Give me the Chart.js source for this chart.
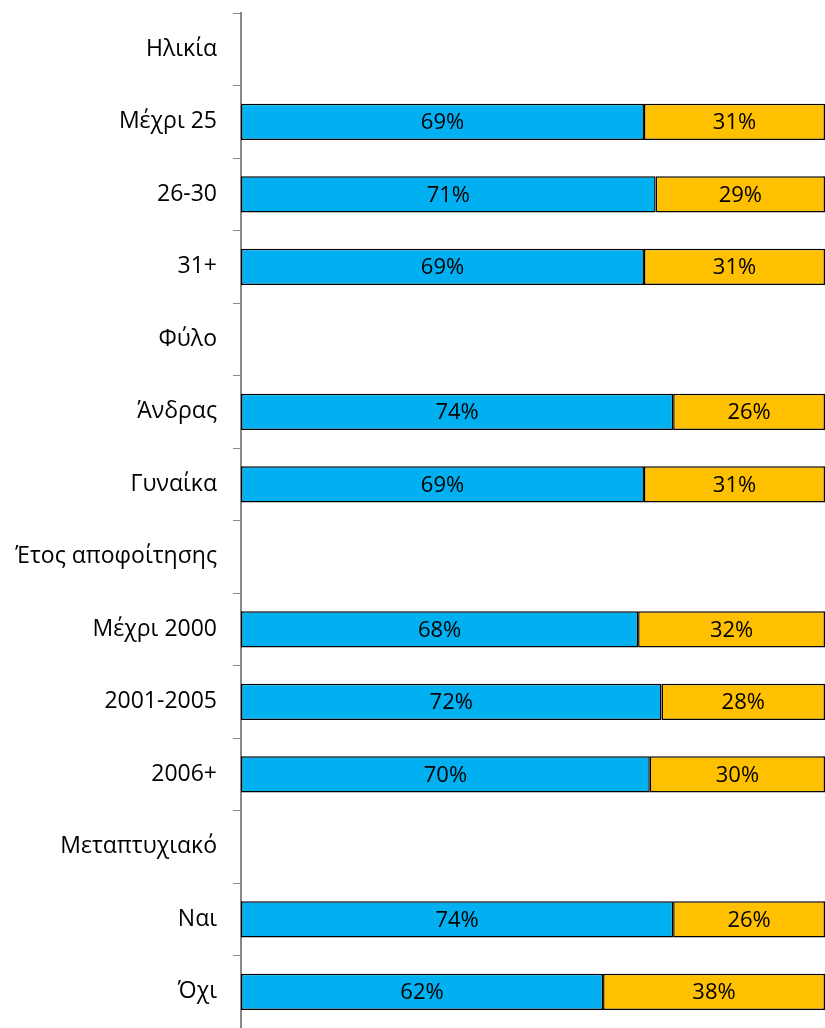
<!DOCTYPE html>
<html>
<head>
<meta charset="utf-8">
<script src="https://cdn.jsdelivr.net/npm/chart.js@4"></script>
<style>
  html, body { margin: 0; padding: 0; background: #fff; }
</style>
</head>
<body>
<canvas id="chart" width="825" height="1028"></canvas>
<script>
// Categories (header rows carry no values)
const categories = ['Ηλικία', 'Μέχρι 25', '26-30', '31+', 'Φύλο', 'Άνδρας', 'Γυναίκα',
    'Έτος αποφοίτησης', 'Μέχρι 2000', '2001-2005', '2006+', 'Μεταπτυχιακό', 'Ναι', 'Όχι'];

// Share of each group (%)
const blueValues = [null, 69, 71, 69, null, 74, 69, null, 68, 72, 70, null, 74, 62];
const orangeValues = [null, 31, 29, 31, null, 26, 31, null, 32, 28, 30, null, 26, 38];

const fontFamily = '"Open Sans", sans-serif';

// Draw the percentage in the middle of each bar
const barLabels = {
    id: 'barLabels',
    afterDatasetsDraw(chart) {
        const ctx = chart.ctx;
        ctx.save();
        ctx.font = '22px ' + fontFamily;
        ctx.fillStyle = '#000';
        ctx.textAlign = 'center';
        ctx.textBaseline = 'middle';
        chart.data.datasets.forEach((ds, i) => {
            chart.getDatasetMeta(i).data.forEach((bar, j) => {
                const v = ds.data[j];
                if (v === null || v === undefined) return;
                const cx = (bar.x + bar.base) / 2;
                ctx.fillText(v + '%', cx, bar.y + 1);
            });
        });
        ctx.restore();
    }
};

new Chart(document.getElementById('chart'), {
    type: 'bar',
    data: {
        labels: categories,
        datasets: [{
            data: blueValues,
            backgroundColor: '#00B0F0',
            borderColor: '#000',
            borderWidth: 1.5,
            borderSkipped: false,
            categoryPercentage: 1,
            barPercentage: 0.5
        }, {
            data: orangeValues,
            backgroundColor: '#FFC000',
            borderColor: '#000',
            borderWidth: 1.5,
            borderSkipped: false,
            categoryPercentage: 1,
            barPercentage: 0.5
        }]
    },
    options: {
        indexAxis: 'y',
        responsive: false,
        animation: false,
        layout: { padding: { top: 13, right: 0, bottom: 0, left: 0 } },
        plugins: {
            legend: { display: false },
            tooltip: { enabled: false }
        },
        scales: {
            x: {
                display: false,
                stacked: true,
                min: 0,
                max: 100
            },
            y: {
                stacked: true,
                offset: true,
                grid: {
                    offset: true,
                    drawOnChartArea: false,
                    tickLength: 8,
                    color: '#888'
                },
                border: { color: '#888', width: 2 },
                ticks: {
                    color: '#000',
                    padding: 16,
                    font: { family: fontFamily, size: 23 }
                },
                afterFit(scale) {
                    scale.width = 241;
                    scale.paddingTop = 0;
                    scale.paddingBottom = 0;
                }
            }
        }
    },
    plugins: [barLabels]
});
</script>
</body>
</html>
